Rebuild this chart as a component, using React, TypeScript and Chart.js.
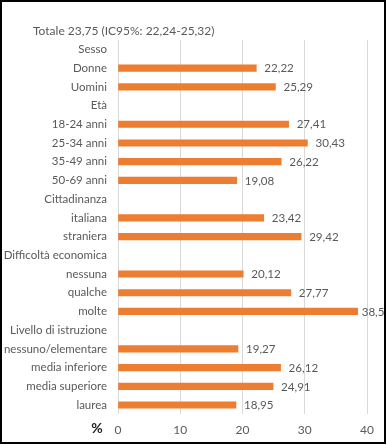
import React, { useEffect, useRef } from "react";
import { Chart, registerables } from "chart.js";

Chart.register(...registerables);

const TITLE = "Totale 23,75 (IC95%: 22,24-25,32)";
const AXIS_UNIT = "%";

const categories: string[] = [
  "Sesso",
  "Donne",
  "Uomini",
  "Età",
  "18-24 anni",
  "25-34 anni",
  "35-49 anni",
  "50-69 anni",
  "Cittadinanza",
  "italiana",
  "straniera",
  "Difficoltà economica",
  "nessuna",
  "qualche",
  "molte",
  "Livello di istruzione",
  "nessuno/elementare",
  "media inferiore",
  "media superiore",
  "laurea",
];

const values: (number | null)[] = [
  null,
  22.22,
  25.29,
  null,
  27.41,
  30.43,
  26.22,
  19.08,
  null,
  23.42,
  29.42,
  null,
  20.12,
  27.77,
  38.5,
  null,
  19.27,
  26.12,
  24.91,
  18.95,
];

const xTicks: number[] = [0, 10, 20, 30, 40];

const FONT = "Lato, 'Open Sans', sans-serif";
const GREY = "#595959";
const ORANGE = "#ED7D31";

const fmt = (v: number) => String(v).replace(".", ",");

const extrasPlugin = {
  id: "extras",
  afterDatasetsDraw(chart: any) {
    const ctx = chart.ctx;
    const meta = chart.getDatasetMeta(0);
    ctx.save();
    ctx.font = `11.6px ${FONT}`;
    ctx.fillStyle = GREY;
    ctx.textAlign = "left";
    ctx.textBaseline = "middle";
    const maxRight = chart.chartArea.right + 16;
    meta.data.forEach((bar: any, i: number) => {
      const v = values[i];
      if (v === null || v === undefined) return;
      const txt = fmt(v);
      const w = ctx.measureText(txt).width;
      const x = Math.max(bar.x + 4, Math.min(bar.x + 8, maxRight - w));
      ctx.fillText(txt, x, bar.y + 0.5);
    });
    ctx.restore();
  },
  afterDraw(chart: any) {
    const ctx = chart.ctx;
    const area = chart.chartArea;
    ctx.save();
    ctx.font = `12px ${FONT}`;
    ctx.fillStyle = GREY;
    ctx.textAlign = "left";
    ctx.textBaseline = "middle";
    ctx.fillText(TITLE, 33, area.top - 9);
    ctx.font = `bold 14px ${FONT}`;
    ctx.fillStyle = "#222222";
    ctx.textAlign = "center";
    ctx.fillText(AXIS_UNIT, area.left - 21, area.bottom + 14.5);
    ctx.restore();
  },
};

export default function App() {
  const canvasRef = useRef<HTMLCanvasElement | null>(null);

  useEffect(() => {
    document.body.style.margin = "0";
    const canvas = canvasRef.current;
    if (!canvas) return;
    const chart = new Chart(canvas, {
      type: "bar",
      data: {
        labels: categories,
        datasets: [
          {
            data: values as any,
            backgroundColor: ORANGE,
            borderWidth: 0,
            barThickness: 6.5,
          },
        ],
      },
      options: {
        indexAxis: "y",
        animation: false,
        responsive: false,
        maintainAspectRatio: false,
        layout: { padding: { top: 40, right: 20, left: 0, bottom: 0 } },
        plugins: {
          legend: { display: false },
          tooltip: { enabled: false },
          title: { display: false },
        },
        scales: {
          x: {
            min: 0,
            max: 40,
            afterBuildTicks: (scale: any) => {
              scale.ticks = xTicks.map((v) => ({ value: v }));
            },
            afterFit: (scale: any) => {
              scale.height = 30.6;
            },
            grid: { color: "#d9d9d9", lineWidth: 1, drawTicks: false },
            border: { display: false },
            ticks: {
              color: GREY,
              padding: 8.5,
              font: { family: FONT, size: 12 },
            },
          },
          y: {
            afterFit: (scale: any) => {
              scale.width = 118;
            },
            grid: { display: false, drawTicks: false },
            border: { display: false },
            ticks: {
              color: GREY,
              padding: 11,
              autoSkip: false,
              font: { family: FONT, size: 11.5 },
            },
          },
        },
      },
      plugins: [extrasPlugin],
    });
    return () => chart.destroy();
  }, []);

  return (
    <div style={{ position: "relative", width: 387, height: 445, background: "#fff" }}>
      <canvas ref={canvasRef} width={387} height={445} style={{ position: "absolute", left: 0, top: 0 }} />
      <div
        style={{
          position: "absolute",
          left: 0,
          top: 0,
          width: 386,
          height: 444,
          border: "2px solid #000",
          boxSizing: "border-box",
          pointerEvents: "none",
        }}
      />
    </div>
  );
}
